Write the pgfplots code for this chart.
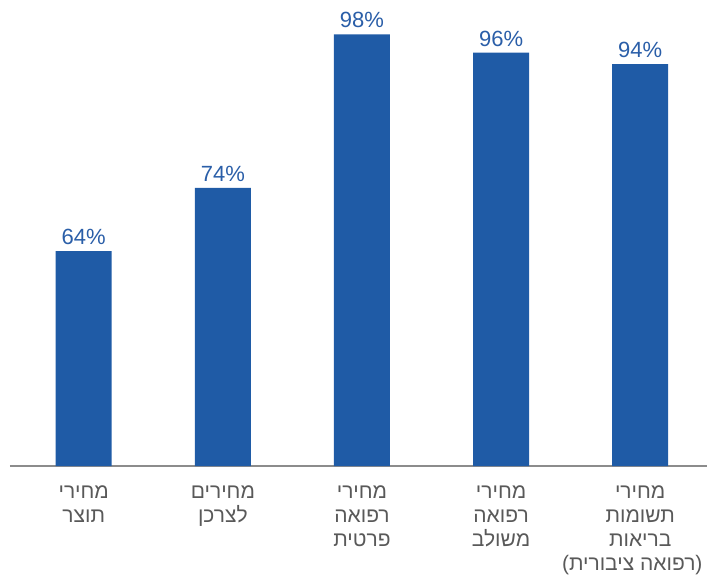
\documentclass[border=0pt]{standalone}
\usepackage{pgfplots}
\pgfplotsset{compat=1.18}
\usepackage{pgfplotstable}
\usepackage{fontspec}
\setmainfont{Liberation Sans}
\newfontfamily\hebfont[Script=Hebrew]{Liberation Sans}
\TeXXeTstate=1
\definecolor{barblue}{HTML}{1F5BA6}
\definecolor{valblue}{HTML}{2A5EA8}
\definecolor{lblgray}{HTML}{595959}
\definecolor{axgray}{HTML}{8C8C8C}

\pgfplotstableread{
x y lab
0 64 64
1 74 74
2 98.3 98
3 95.4 96
4 93.6 94
}\datatable

\begin{document}
\begin{tikzpicture}
\useasboundingbox (-10pt,-110pt) rectangle (697pt,466pt);
\begin{axis}[
  scale only axis,
  width=697pt, height=442.4pt,
  xmin=-0.53, xmax=4.48, ymin=30, ymax=100,
  axis x line*=bottom, axis y line=none,
  x axis line style={-, draw=axgray, line width=1.3pt},
  xtick={0,1,2,3,4},
  major tick length=0pt,
  xtick style={draw=none},
  ytick=\empty,
  xticklabel style={align=center, font=\hebfont\fontsize{21}{24}\selectfont, text=lblgray, anchor=north, inner sep=0pt, yshift=-20pt},
  xticklabels={
    {\beginR מחירי\endR\\\beginR תוצר\endR},
    {\beginR מחירים\endR\\\beginR לצרכן\endR},
    {\beginR מחירי\endR\\\beginR רפואה\endR\\\beginR פרטית\endR},
    {\beginR מחירי\endR\\\beginR רפואה\endR\\\beginR משולב\endR},
    {\beginR מחירי\endR\\\beginR תשומות\endR\\\beginR בריאות\endR\\)\beginR רפואה ציבורית\endR(\hspace*{16pt}}
  },
  point meta=explicit symbolic,
  nodes near coords={\pgfplotspointmeta\%},
  every node near coord/.append style={font=\fontsize{22}{26}\selectfont, text=valblue, anchor=south, inner sep=0pt, yshift=6pt},
  clip=false,
]
\addplot[ybar, bar width=56pt, fill=barblue, draw=none] table[x=x, y=y, meta=lab] {\datatable};
\end{axis}
\end{tikzpicture}
\end{document}
